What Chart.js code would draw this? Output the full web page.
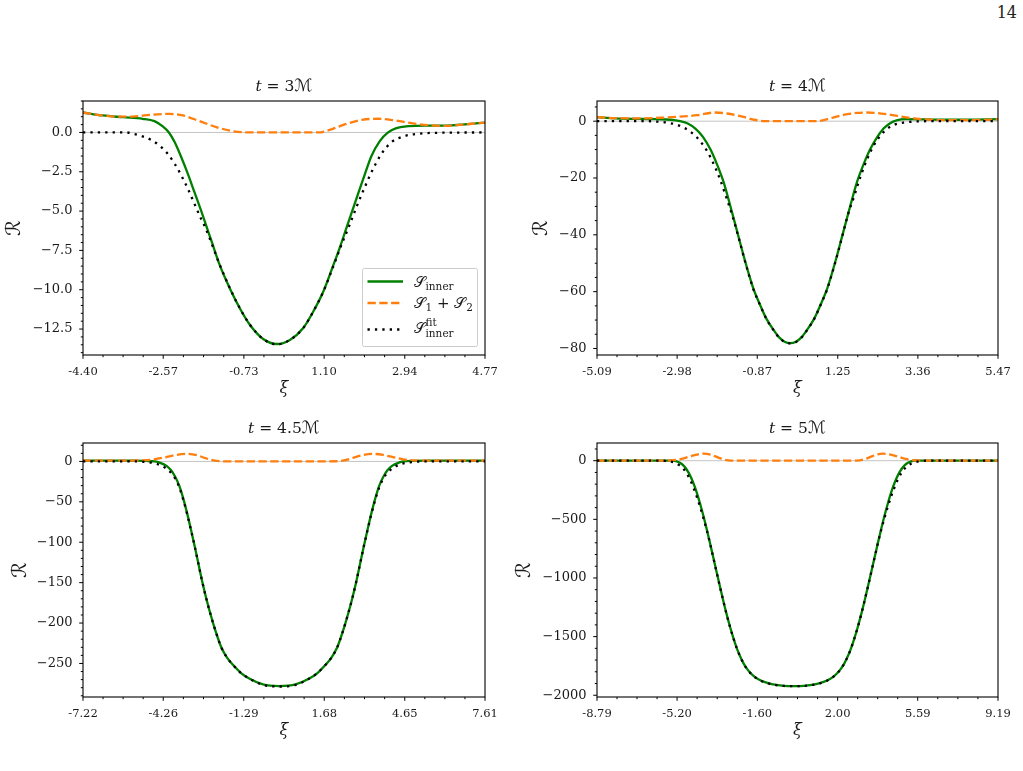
<!DOCTYPE html>
<html>
<head>
<meta charset="utf-8">
<script src="https://cdn.jsdelivr.net/npm/chart.js@4.4.0/dist/chart.umd.min.js"></script>
<style>
  html, body { margin: 0; padding: 0; background: #fff; }
  body { width: 1023px; height: 771px; position: relative; overflow: hidden; }
  canvas { position: absolute; }
  #page { position: absolute; right: 6px; top: 3px; font: 16px "DejaVu Serif", serif; color: #222; }
</style>
</head>
<body>
<div id="page">14</div>
<canvas id="c1"></canvas>
<canvas id="c2"></canvas>
<canvas id="c3"></canvas>
<canvas id="c4"></canvas>
<script>
// panel titles: t = ...M
const times = ['3', '4', '4.5', '5'];

// x tick labels (also the tick positions)
const xTicks1 = ['-4.40', '-2.57', '-0.73', '1.10', '2.94', '4.77'];
const xTicks2 = ['-5.09', '-2.98', '-0.87', '1.25', '3.36', '5.47'];
const xTicks3 = ['-7.22', '-4.26', '-1.29', '1.68', '4.65', '7.61'];
const xTicks4 = ['-8.79', '-5.20', '-1.60', '2.00', '5.59', '9.19'];

// y ticks
const yTicks1 = [0, -2.5, -5, -7.5, -10, -12.5];
const yLabels1 = ['0.0', '\u22122.5', '\u22125.0', '\u22127.5', '\u221210.0', '\u221212.5'];
const yTicks2 = [0, -20, -40, -60, -80];
const yLabels2 = ['0', '\u221220', '\u221240', '\u221260', '\u221280'];
const yTicks3 = [0, -50, -100, -150, -200, -250];
const yLabels3 = ['0', '\u221250', '\u2212100', '\u2212150', '\u2212200', '\u2212250'];
const yTicks4 = [0, -500, -1000, -1500, -2000];
const yLabels4 = ['0', '\u2212500', '\u22121000', '\u22121500', '\u22122000'];

// t = 3M
const innerX1 = [-4.40, -3.95, -3.49, -3.04, -2.77, -2.58, -2.44, -2.31, -2.16, -2.01, -1.86, -1.71, -1.58, -1.47, -1.28, -1.05, -0.82, -0.59, -0.29, 0.02, 0.32, 0.62, 0.85, 1.08, 1.31, 1.46, 1.60, 1.74, 1.88, 2.03, 2.18, 2.37, 2.56, 2.75, 3.02, 3.40, 3.86, 4.31, 4.77];
const innerY1 = [1.27, 1.08, 0.97, 0.87, 0.72, 0.38, 0.0, -0.61, -1.56, -2.62, -3.78, -4.94, -6.0, -6.9, -8.44, -9.92, -11.19, -12.24, -13.13, -13.45, -13.19, -12.45, -11.4, -10.13, -8.44, -7.3, -6.15, -5.0, -3.85, -2.65, -1.5, -0.55, 0.0, 0.28, 0.40, 0.44, 0.44, 0.51, 0.63];
const sumX1 = [-4.40, -3.95, -3.65, -3.27, -2.88, -2.43, -2.12, -1.74, -1.36, -0.98, -0.60, 0.21, 0.97, 1.19, 1.57, 1.96, 2.33, 2.72, 3.10, 3.48, 3.86, 4.31, 4.77];
const sumY1 = [1.27, 1.08, 1.01, 1.01, 1.12, 1.18, 1.08, 0.72, 0.34, 0.08, 0.0, 0.0, 0.0, 0.13, 0.51, 0.80, 0.87, 0.76, 0.59, 0.46, 0.42, 0.51, 0.63];
const fitX1 = [-4.40, -3.41, -3.27, -3.04, -2.82, -2.66, -2.47, -2.31, -2.16, -2.01, -1.86, -1.71, -1.61, -1.48, -1.29, -1.05, -0.82, -0.59, -0.29, 0.02, 0.32, 0.62, 0.85, 1.08, 1.32, 1.52, 1.65, 1.84, 2.03, 2.22, 2.41, 2.64, 2.91, 3.25, 3.70, 4.77];
const fitY1 = [0.0, 0.0, -0.08, -0.25, -0.51, -0.82, -1.35, -1.98, -2.72, -3.57, -4.52, -5.47, -6.05, -6.95, -8.35, -9.9, -11.19, -12.24, -13.13, -13.48, -13.19, -12.45, -11.4, -10.13, -8.44, -6.97, -6.1, -4.73, -3.46, -2.30, -1.35, -0.61, -0.25, -0.08, -0.02, 0.0];

// t = 4M
const innerX2 = [-5.09, -4.6, -4.0, -3.5, -3.15, -2.90, -2.70, -2.50, -2.30, -2.10, -1.93, -1.76, -1.57, -1.37, -1.17, -0.97, -0.80, -0.63, -0.45, -0.30, -0.15, 0.0, 0.15, 0.30, 0.45, 0.63, 0.80, 0.97, 1.17, 1.37, 1.57, 1.76, 1.93, 2.10, 2.28, 2.45, 2.62, 2.80, 3.05, 3.6, 4.5, 5.47];
const innerY2 = [1.4, 1.0, 0.8, 0.7, 0.5, 0.0, -0.8, -2.6, -5.5, -10.0, -15.2, -21.3, -30.3, -40.3, -50.2, -59.0, -64.5, -69.5, -73.3, -76.0, -77.6, -78.1, -77.6, -76.0, -73.3, -69.5, -64.5, -59.0, -50.2, -40.3, -30.3, -21.3, -15.2, -10.0, -5.8, -2.7, -0.8, 0.3, 0.7, 0.6, 0.5, 0.7];
const sumX2 = [-5.09, -4.6, -4.0, -3.42, -2.99, -2.46, -1.98, -1.67, -1.23, -0.95, -0.71, -0.4, 0.4, 0.74, 1.05, 1.40, 1.75, 2.01, 2.54, 2.97, 3.32, 3.7, 4.02, 4.9, 5.47];
const sumY2 = [1.4, 1.1, 1.0, 1.2, 1.5, 2.1, 3.05, 2.7, 1.5, 0.5, 0.05, 0.0, 0.0, 0.05, 1.0, 2.2, 2.9, 3.05, 2.45, 1.5, 0.9, 0.5, 0.35, 0.4, 0.65];
const fitX2 = [-5.09, -3.8, -3.5, -3.25, -3.0, -2.8, -2.6, -2.4, -2.2, -2.02, -1.85, -1.68, -1.52, -1.37, -1.17, -0.97, -0.80, -0.63, -0.45, -0.30, -0.15, 0.0, 0.15, 0.30, 0.45, 0.63, 0.80, 0.97, 1.17, 1.37, 1.52, 1.68, 1.85, 2.02, 2.2, 2.38, 2.56, 2.75, 3.0, 3.3, 3.7, 5.47];
const fitY2 = [0, 0, -0.15, -0.5, -1.2, -2.3, -4.0, -6.6, -10.3, -15.0, -20.5, -27.0, -33.5, -40.5, -50.4, -59.2, -64.6, -69.6, -73.4, -76.1, -77.7, -78.2, -77.7, -76.1, -73.4, -69.6, -64.6, -59.2, -50.4, -40.5, -32.8, -26.5, -19.5, -13.5, -8.5, -5.0, -2.6, -1.2, -0.45, -0.12, 0, 0];

// t = 4.5M
const innerX3 = [-7.22, -6.6, -6.0, -5.4, -4.9, -4.56, -4.39, -4.14, -3.97, -3.82, -3.67, -3.52, -3.38, -3.24, -3.10, -2.96, -2.82, -2.67, -2.50, -2.32, -2.12, -1.90, -1.68, -1.40, -1.07, -0.58, 0.02, 0.62, 1.11, 1.44, 1.72, 1.94, 2.16, 2.36, 2.54, 2.71, 2.86, 3.00, 3.14, 3.28, 3.42, 3.56, 3.71, 3.86, 4.01, 4.18, 4.43, 4.60, 4.95, 5.5, 6.5, 7.61];
const innerY3 = [1.0, 1.1, 1.0, 0.9, 0.6, 0.0, -1.5, -5.5, -11, -19, -30, -46, -64, -84, -105, -127, -149, -170, -191, -211, -230, -243, -252, -261.5, -269, -276, -278, -276, -269, -261.5, -252, -243, -230, -211, -191, -170, -149, -127, -105, -84, -64, -46, -30, -19, -11, -5.5, -1.5, 0.0, 0.7, 1.0, 1.0, 1.0];
const sumX3 = [-7.22, -6.0, -5.0, -4.6, -4.2, -3.8, -3.40, -3.0, -2.7, -2.4, -2.1, -1.8, 1.8, 2.1, 2.4, 2.7, 3.05, 3.43, 3.85, 4.25, 4.6, 4.95, 5.6, 7.61];
const sumY3 = [1.0, 1.0, 1.3, 2.5, 5.0, 8.0, 9.4, 7.5, 4.0, 1.2, 0.2, 0.0, 0.0, 0.2, 1.2, 4.0, 7.5, 9.4, 8.0, 5.0, 2.5, 1.3, 1.0, 1.0];
const fitX3 = [-7.22, -5.3, -5.0, -4.7, -4.45, -4.2, -4.0, -3.82, -3.67, -3.52, -3.38, -3.24, -3.10, -2.96, -2.82, -2.67, -2.50, -2.32, -2.12, -1.90, -1.68, -1.40, -1.07, -0.58, 0.02, 0.62, 1.11, 1.44, 1.72, 1.94, 2.16, 2.36, 2.54, 2.71, 2.86, 3.00, 3.14, 3.28, 3.42, 3.56, 3.71, 3.86, 4.04, 4.24, 4.49, 4.74, 5.04, 5.34, 7.61];
const fitY3 = [0, 0, -0.4, -1.5, -3.5, -7.5, -13, -21, -32, -47.5, -65, -84.5, -105, -127, -149, -170, -191, -211, -230, -243, -252, -261.5, -269, -276.5, -278.5, -276.5, -269, -261.5, -252, -243, -230, -211, -191, -170, -149, -127, -105, -84.5, -65, -47.5, -32, -21, -13, -7.5, -3.5, -1.5, -0.4, 0, 0];

// t = 5M
const innerX4 = [-8.79, -7.0, -5.7, -5.37, -5.22, -5.07, -4.92, -4.77, -4.62, -4.47, -4.32, -4.17, -4.02, -3.87, -3.72, -3.57, -3.42, -3.27, -3.12, -2.97, -2.82, -2.67, -2.52, -2.37, -2.22, -2.07, -1.92, -1.72, -1.42, -1.12, -0.76, -0.40, 0.04,
  0.48, 0.84, 1.20, 1.50, 1.80, 2.00, 2.15, 2.30, 2.45, 2.60, 2.75, 2.90, 3.05, 3.20, 3.35, 3.50, 3.65, 3.80, 3.95, 4.10, 4.25, 4.40, 4.55, 4.70, 4.85, 5.00, 5.15, 5.30, 5.45, 5.8, 7.0, 9.19];
const innerY4 = [0, 0, 0, 0, -5, -18, -40, -75, -125, -190, -270, -365, -470, -585, -705, -830, -955, -1080, -1200, -1315, -1420, -1515, -1600, -1670, -1728, -1773, -1808, -1843, -1877, -1897, -1912, -1920, -1922,
  -1920, -1912, -1897, -1877, -1843, -1808, -1773, -1728, -1670, -1600, -1515, -1420, -1315, -1200, -1080, -955, -830, -705, -585, -470, -365, -270, -190, -125, -75, -40, -18, -5, 0, 0, 0, 0];
const sumX4 = [-8.79, -6.0, -5.5, -5.0, -4.6, -4.25, -4.02, -3.7, -3.4, -3.1, -2.8, -2.5, 2.5, 2.85, 3.15, 3.45, 3.75, 4.04, 4.3, 4.65, 5.05, 5.55, 6.0, 9.19];
const sumY4 = [0, 0, 2, 15, 38, 55, 60, 52, 30, 10, 1, 0, 0, 1, 10, 30, 52, 60, 55, 38, 15, 2, 0, 0];
const fitX4 = [-8.79, -5.9, -5.7, -5.5, -5.3, -5.1, -4.95, -4.8, -4.62, -4.47, -4.32, -4.17, -4.02, -3.87, -3.72, -3.57, -3.42, -3.27, -3.12, -2.97, -2.82, -2.67, -2.52, -2.37, -2.22, -2.07, -1.92, -1.72, -1.42, -1.12, -0.76, -0.40, 0.04,
  0.48, 0.84, 1.20, 1.50, 1.80, 2.00, 2.15, 2.30, 2.45, 2.60, 2.75, 2.90, 3.05, 3.20, 3.35, 3.50, 3.65, 3.80, 3.95, 4.10, 4.25, 4.40, 4.55, 4.70, 4.88, 5.03, 5.18, 5.38, 5.58, 5.78, 5.98, 9.19];
const fitY4 = [0, 0, -2, -7, -18, -38, -62, -98, -160, -228, -305, -392, -488, -592, -706, -831, -956, -1081, -1201, -1316, -1421, -1516, -1601, -1671, -1729, -1774, -1809, -1844, -1878, -1898, -1913, -1921, -1923,
  -1921, -1913, -1898, -1878, -1844, -1809, -1774, -1729, -1671, -1601, -1516, -1421, -1316, -1201, -1081, -956, -831, -706, -592, -488, -392, -305, -228, -160, -98, -62, -38, -18, -7, -2, 0, 0];

const SERIF = '"DejaVu Serif", "DejaVu Sans", serif';
const INK = '#1a1a1a';

const zip = (xs, ys) => xs.map((x, i) => ({ x: x, y: ys[i] }));

const panels = [
  { id: 'c1', t: times[0], left: 0, top: 61, yW: 83, w: 402, xTicks: xTicks1, yTicks: yTicks1, yLabels: yLabels1,
    yMin: -14.15, yMax: 2.0, yMinor: 0.5, ylabX: 15, legend: true,
    inner: zip(innerX1, innerY1), sum: zip(sumX1, sumY1), fit: zip(fitX1, fitY1) },
  { id: 'c2', t: times[1], left: 512, top: 61, yW: 85, w: 401, xTicks: xTicks2, yTicks: yTicks2, yLabels: yLabels2,
    yMin: -82.3, yMax: 7.1, yMinor: 5, ylabX: 542, legend: false,
    inner: zip(innerX2, innerY2), sum: zip(sumX2, sumY2), fit: zip(fitX2, fitY2) },
  { id: 'c3', t: times[2], left: 0, top: 403, yW: 83, w: 402, xTicks: xTicks3, yTicks: yTicks3, yLabels: yLabels3,
    yMin: -291.5, yMax: 22.8, yMinor: 10, ylabX: 21, legend: false,
    inner: zip(innerX3, innerY3), sum: zip(sumX3, sumY3), fit: zip(fitX3, fitY3) },
  { id: 'c4', t: times[3], left: 512, top: 403, yW: 85, w: 401, xTicks: xTicks4, yTicks: yTicks4, yLabels: yLabels4,
    yMin: -2015, yMax: 151, yMinor: 100, ylabX: 525, legend: false,
    inner: zip(innerX4, innerY4), sum: zip(sumX4, sumY4), fit: zip(fitX4, fitY4) }
];

const TOP_PAD = 40, X_H = 55, R_PAD = 25, PLOT_H = 254;

// draws a row of text pieces with different fonts/offsets
function drawParts(ctx, x, y, parts, align) {
  let w = 0;
  parts.forEach(p => {
    ctx.font = p.f;
    p.w = ctx.measureText(p.t).width;
    if (!p.stack) w += p.w;
  });
  let cx = align === 'center' ? x - w / 2 : x;
  parts.forEach(p => {
    ctx.font = p.f;
    ctx.fillText(p.t, cx, y + (p.dy || 0));
    if (!p.stack) cx += p.w;
  });
}

const decoPlugin = {
  id: 'deco',
  afterDraw(chart, args, o) {
    const ctx = chart.ctx, a = chart.chartArea;
    const xs = chart.scales.x, ys = chart.scales.y;
    ctx.save();
    // frame
    ctx.strokeStyle = '#000';
    ctx.lineWidth = 1.1;
    ctx.strokeRect(a.left, a.top, a.right - a.left, a.bottom - a.top);
    // ticks
    ctx.lineWidth = 1;
    ctx.beginPath();
    const xt = o.xTicks.map(Number);
    xt.forEach((v, i) => {
      const px = xs.getPixelForValue(v);
      ctx.moveTo(px, a.bottom); ctx.lineTo(px, a.bottom + 3.8);
      if (i < xt.length - 1) {
        for (let k = 1; k < 4; k++) {
          const m = xs.getPixelForValue(v + (xt[i + 1] - v) * k / 4);
          ctx.moveTo(m, a.bottom); ctx.lineTo(m, a.bottom + 2.2);
        }
      }
    });
    o.yTicks.forEach(v => {
      const py = ys.getPixelForValue(v);
      ctx.moveTo(a.left - 3.8, py); ctx.lineTo(a.left, py);
    });
    const k0 = Math.ceil(o.yMin / o.yMinor), k1 = Math.floor(o.yMax / o.yMinor);
    for (let k = k0; k <= k1; k++) {
      const v = k * o.yMinor;
      if (o.yTicks.some(t => Math.abs(t - v) < 1e-9)) continue;
      const py = ys.getPixelForValue(v);
      ctx.moveTo(a.left - 2.2, py); ctx.lineTo(a.left, py);
    }
    ctx.stroke();

    // title
    ctx.fillStyle = INK;
    ctx.textBaseline = 'alphabetic';
    const cx = (a.left + a.right) / 2;
    drawParts(ctx, cx, a.top - 10, [
      { t: 't', f: 'italic 15.5px ' + SERIF },
      { t: ' = ' + o.t, f: '15.5px ' + SERIF },
      { t: '\u2133', f: '17px "DejaVu Sans", ' + SERIF }
    ], 'center');

    // x label
    ctx.textAlign = 'left';
    drawParts(ctx, cx, a.bottom + 38, [{ t: '\u03BE', f: 'italic 16px ' + SERIF }], 'center');

    // y label
    ctx.save();
    ctx.translate(o.ylabX - o.left, (a.top + a.bottom) / 2);
    ctx.rotate(-Math.PI / 2);
    ctx.textAlign = 'center';
    ctx.textBaseline = 'middle';
    ctx.font = '20px "DejaVu Sans", ' + SERIF;
    ctx.fillText('\u211B', 0, 0);
    ctx.restore();

    // legend
    if (o.legend) {
      const bw = 115, bh = 78;
      const bx = a.right - 8 - bw, by = a.bottom - 9 - bh;
      ctx.fillStyle = 'rgba(255,255,255,0.8)';
      ctx.strokeStyle = '#cccccc';
      ctx.lineWidth = 1;
      ctx.beginPath();
      ctx.roundRect(bx + 0.5, by + 0.5, bw, bh, 2);
      ctx.fill();
      ctx.stroke();
      const rows = [13.5, 35, 61.5];
      const styles = [
        { c: '#008000', d: [] },
        { c: '#ff7f0e', d: [8.3, 3.5] },
        { c: '#000000', d: [2.3, 5.1] }
      ];
      styles.forEach((s, i) => {
        ctx.strokeStyle = s.c;
        ctx.lineWidth = 2.3;
        ctx.lineCap = 'butt';
        ctx.setLineDash(s.d);
        ctx.beginPath();
        ctx.moveTo(bx + 5.5, by + rows[i]);
        ctx.lineTo(bx + 41, by + rows[i]);
        ctx.stroke();
      });
      ctx.setLineDash([]);
      ctx.fillStyle = INK;
      const big = '15px ' + SERIF, small = '10.5px ' + SERIF;
      const tx = bx + 51.5;
      drawParts(ctx, tx, by + rows[0] + 5, [
        { t: '\uD835\uDCAE', f: big }, { t: 'inner', f: small, dy: 3 }
      ]);
      drawParts(ctx, tx, by + rows[1] + 5, [
        { t: '\uD835\uDCAE', f: big }, { t: '1', f: small, dy: 3 },
        { t: ' + ', f: big }, { t: '\uD835\uDCAE', f: big }, { t: '2', f: small, dy: 3 }
      ]);
      drawParts(ctx, tx, by + rows[2] + 3, [
        { t: '\uD835\uDCAE', f: big }, { t: 'fit', f: small, dy: -7, stack: true }, { t: 'inner', f: small, dy: 4 }
      ]);
    }
    ctx.restore();
  }
};

panels.forEach(p => {
  const cv = document.getElementById(p.id);
  const W = p.yW + p.w + R_PAD, H = TOP_PAD + PLOT_H + X_H;
  cv.width = W; cv.height = H;
  cv.style.left = p.left + 'px';
  cv.style.top = p.top + 'px';
  cv.style.width = W + 'px';
  cv.style.height = H + 'px';
  const xt = p.xTicks.map(Number);
  const xMin = xt[0], xMax = xt[xt.length - 1];

  new Chart(cv.getContext('2d'), {
    type: 'line',
    data: {
      datasets: [
        { label: 'zero', data: [{ x: xMin, y: 0 }, { x: xMax, y: 0 }], borderColor: '#c4c4c4', borderWidth: 1, order: 4 },
        { label: 'S_inner', data: p.inner, borderColor: '#008000', borderWidth: 2.3, order: 3, cubicInterpolationMode: 'monotone' },
        { label: 'S_1 + S_2', data: p.sum, borderColor: '#ff7f0e', borderWidth: 2.3, borderDash: [8.3, 3.5], order: 2, cubicInterpolationMode: 'monotone' },
        { label: 'S_inner^fit', data: p.fit, borderColor: '#000000', borderWidth: 2.3, borderDash: [2.3, 5.1], order: 1, cubicInterpolationMode: 'monotone' }
      ]
    },
    options: {
      responsive: false,
      animation: false,
      devicePixelRatio: 1,
      layout: { padding: { top: TOP_PAD, right: R_PAD, left: 0, bottom: 0 } },
      elements: { point: { radius: 0 }, line: { borderCapStyle: 'butt' } },
      scales: {
        x: {
          type: 'linear', min: xMin, max: xMax,
          grid: { display: false, drawTicks: false },
          border: { display: false },
          ticks: {
            autoSkip: false, maxRotation: 0, padding: 10, color: INK,
            font: { family: '"DejaVu Serif"', size: 11.5 },
            callback: (v, i) => p.xTicks[i]
          },
          afterBuildTicks: (axis) => { axis.ticks = xt.map(v => ({ value: v })); },
          afterFit: (axis) => { axis.height = X_H; }
        },
        y: {
          type: 'linear', min: p.yMin, max: p.yMax,
          grid: { display: false, drawTicks: false },
          border: { display: false },
          ticks: {
            autoSkip: false, padding: 10.5, color: INK,
            font: { family: '"DejaVu Serif"', size: 13 },
            callback: (v, i) => p.yLabels[i]
          },
          afterBuildTicks: (axis) => { axis.ticks = p.yTicks.map(v => ({ value: v })); },
          afterFit: (axis) => { axis.width = p.yW; }
        }
      },
      plugins: {
        legend: { display: false },
        tooltip: { enabled: false },
        deco: p
      }
    },
    plugins: [decoPlugin]
  });
});
</script>
</body>
</html>
